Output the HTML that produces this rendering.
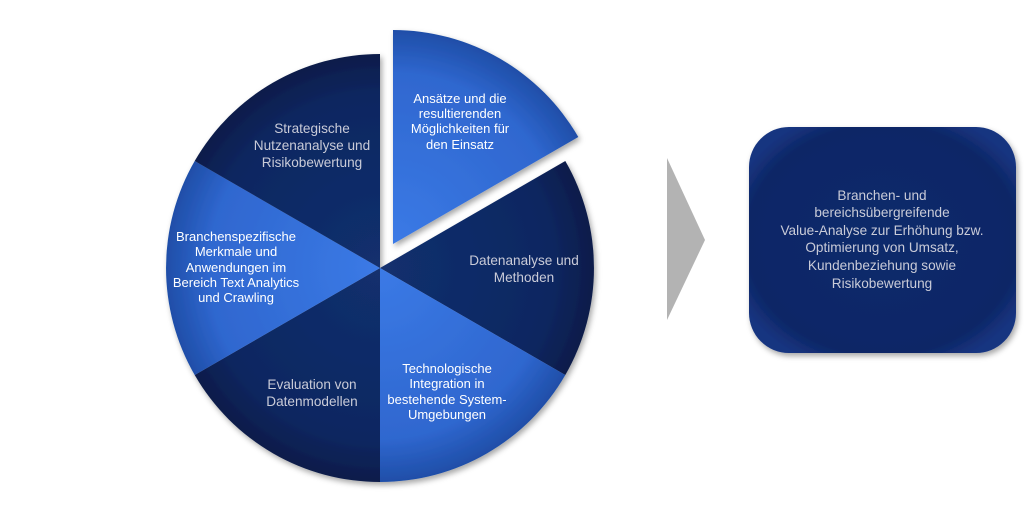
<!DOCTYPE html>
<html><head><meta charset="utf-8"><style>
html,body{margin:0;padding:0;background:#fff;width:1024px;height:515px;overflow:hidden}
text{font-family:"Liberation Sans",sans-serif;font-size:13px;text-anchor:middle}
.g text{font-size:13.6px}
</style></head><body>
<svg width="1024" height="515" viewBox="0 0 1024 515" xmlns="http://www.w3.org/2000/svg">
<defs>
<radialGradient id="lb" cx="380" cy="268" r="214" gradientUnits="userSpaceOnUse">
<stop offset="0" stop-color="#3b7ae6"/><stop offset="0.8" stop-color="#2f67cf"/><stop offset="1" stop-color="#1f4ea8"/></radialGradient>
<radialGradient id="lb2" cx="393" cy="244" r="214" gradientUnits="userSpaceOnUse">
<stop offset="0" stop-color="#3b7ae6"/><stop offset="0.8" stop-color="#2f67cf"/><stop offset="1" stop-color="#1f4ea8"/></radialGradient>
<radialGradient id="db" cx="380" cy="268" r="214" gradientUnits="userSpaceOnUse">
<stop offset="0" stop-color="#12306e"/><stop offset="0.8" stop-color="#0f2761"/><stop offset="1" stop-color="#0a1c4a"/></radialGradient>
<radialGradient id="bx" cx="0.5" cy="0.5" r="0.6">
<stop offset="0" stop-color="#0f2a6c"/><stop offset="0.85" stop-color="#0e2766"/><stop offset="1" stop-color="#163480"/></radialGradient>
<filter id="sh" x="-10%" y="-10%" width="130%" height="130%"><feDropShadow dx="2" dy="3" stdDeviation="3" flood-color="#000" flood-opacity="0.35"/></filter>
</defs>
<g filter="url(#sh)">
<path d="M393,244 L393,30 A214,214 0 0 1 578.3,137 Z" fill="url(#lb2)"/>
<path d="M380,268 L565.3,161 A214,214 0 0 1 565.3,375 Z" fill="url(#db)"/>
<path d="M380,268 L565.3,375 A214,214 0 0 1 380,482 Z" fill="url(#lb)"/>
<path d="M380,268 L380,482 A214,214 0 0 1 194.7,375 Z" fill="url(#db)"/>
<path d="M380,268 L194.7,375 A214,214 0 0 1 194.7,161 Z" fill="url(#lb)"/>
<path d="M380,268 L194.7,161 A214,214 0 0 1 380,54 Z" fill="url(#db)"/>
</g>
<g fill="#fff">
<text x="460" y="103">Ansätze und die</text>
<text x="460" y="118">resultierenden</text>
<text x="460" y="133">Möglichkeiten für</text>
<text x="460" y="149">den Einsatz</text>
<text x="447" y="373">Technologische</text>
<text x="447" y="388">Integration in</text>
<text x="447" y="404">bestehende System-</text>
<text x="447" y="419">Umgebungen</text>
<text x="236" y="241">Branchenspezifische</text>
<text x="236" y="256">Merkmale und</text>
<text x="236" y="272">Anwendungen im</text>
<text x="236" y="287">Bereich Text Analytics</text>
<text x="236" y="302">und Crawling</text>
</g>
<g fill="#c9cbd8" class="g">
<text x="312" y="133">Strategische</text>
<text x="312" y="150">Nutzenanalyse und</text>
<text x="312" y="167">Risikobewertung</text>
<text x="524" y="265">Datenanalyse und</text>
<text x="524" y="282">Methoden</text>
<text x="312" y="389">Evaluation von</text>
<text x="312" y="406">Datenmodellen</text>
</g>
<polygon points="667,158 705,240 667,320" fill="#b3b3b3"/>
<rect x="749" y="127" width="267" height="226" rx="40" fill="url(#bx)" filter="url(#sh)"/>
<g fill="#c9cbd8" class="g">
<text x="882" y="200">Branchen- und</text>
<text x="882" y="217">bereichsübergreifende</text>
<text x="882" y="235">Value-Analyse zur Erhöhung bzw.</text>
<text x="882" y="252">Optimierung von Umsatz,</text>
<text x="882" y="270">Kundenbeziehung sowie</text>
<text x="882" y="288">Risikobewertung</text>
</g>
</svg>
</body></html>
